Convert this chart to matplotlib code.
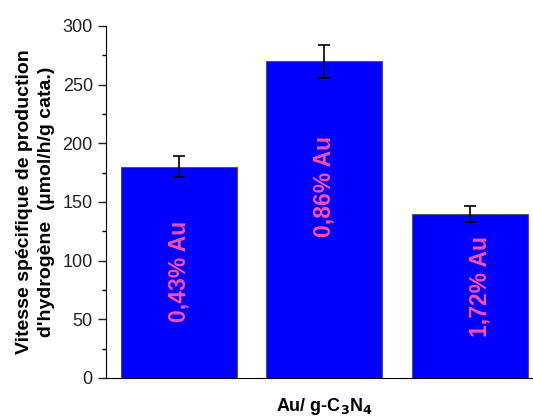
import numpy as np
import matplotlib.pyplot as plt
from matplotlib.ticker import MultipleLocator

# === Data ===
samples = ['0,43% Au', '0,86% Au', '1,72% Au']
rates = [180, 270, 140]
errors = [9, 14, 7]
label_y = [91, 163, 78]

plt.rcParams['font.family'] = ['Liberation Sans', 'DejaVu Sans']

fig = plt.figure(figsize=(5.33, 4.16), dpi=100)
ax = fig.add_axes([106 / 533, 38 / 416, 436.5 / 533, 352 / 416])

x = np.arange(1, len(rates) + 1)
ax.bar(x, rates, width=0.8, color='#0000ff', edgecolor='#555555', linewidth=0.8,
       yerr=errors, capsize=4, error_kw=dict(ecolor='black', elinewidth=1.2, capthick=1.2))

for xi, yi, s in zip(x, label_y, samples):
    ax.text(xi + (0.07 if xi == 3 else 0), yi, s, rotation=90, ha='center', va='center',
            color='#ff4fa8', fontsize=16.5, fontweight='bold')

ax.set_xlim(0.5, 3.5)
ax.set_ylim(0, 300)
ax.yaxis.set_major_locator(MultipleLocator(50))
ax.yaxis.set_minor_locator(MultipleLocator(25))
ax.set_xticks([])
ax.spines['top'].set_visible(False)
ax.spines['right'].set_visible(False)
ax.tick_params(axis='y', which='major', length=6, width=1, labelsize=13, colors='#222222')
ax.tick_params(axis='y', which='minor', length=3, width=1)

ax.set_ylabel("Vitesse spécifique de production\nd'hydrogène  (µmol/h/g cata.)",
              fontsize=14, fontweight='bold', linespacing=1.35)
ax.yaxis.set_label_coords(-0.117, 0.5)
ax.set_xlabel(r"Au/ g-C$_\mathbf{3}$N$_\mathbf{4}$", fontsize=13, fontweight='bold')
ax.xaxis.set_label_coords((2 - 0.5) / 3, -0.05)

fig.savefig('out.png', dpi=100)
